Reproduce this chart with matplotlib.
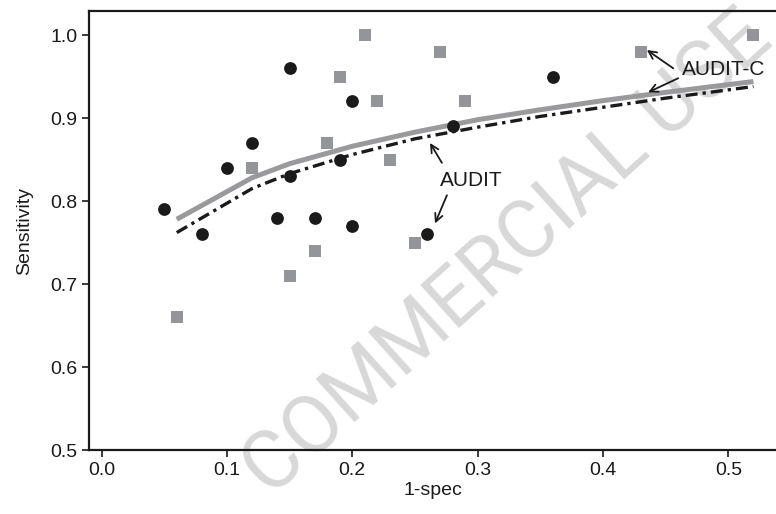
import numpy as np
import matplotlib
matplotlib.use('Agg')
import matplotlib.pyplot as plt

plt.rcParams['font.family'] = ['Liberation Sans', 'DejaVu Sans']

# AUDIT (black circles)
audit_x = [0.05, 0.08, 0.10, 0.12, 0.14, 0.15, 0.15, 0.17, 0.19, 0.20, 0.20, 0.26, 0.28, 0.36]
audit_y = [0.79, 0.76, 0.84, 0.87, 0.78, 0.96, 0.83, 0.78, 0.85, 0.92, 0.77, 0.76, 0.89, 0.95]

# AUDIT-C (grey squares)
auditc_x = [0.06, 0.12, 0.15, 0.17, 0.18, 0.19, 0.21, 0.22, 0.23, 0.25, 0.27, 0.29, 0.43, 0.52]
auditc_y = [0.66, 0.84, 0.71, 0.74, 0.87, 0.95, 1.00, 0.92, 0.85, 0.75, 0.98, 0.92, 0.98, 1.00]

# summary curves
curve_x = [0.06, 0.12, 0.15, 0.20, 0.25, 0.30, 0.35, 0.40, 0.45, 0.52]
curve_auditc = [0.778, 0.828, 0.845, 0.866, 0.883, 0.898, 0.910, 0.921, 0.931, 0.944]
curve_audit = [0.762, 0.815, 0.833, 0.856, 0.875, 0.889, 0.902, 0.913, 0.924, 0.938]

fig = plt.figure(figsize=(7.76, 5.14), dpi=100)
ax = fig.add_axes([0.1147, 0.1245, 0.8853, 0.8541])
ax.patch.set_alpha(0)

ax.plot(curve_x, curve_auditc, color='#9a9a9c', lw=3.6, solid_capstyle='butt', zorder=3)
ax.plot(curve_x, curve_audit, color='#1a1a1a', lw=2.4, dashes=(3.6, 1.5, 1.0, 1.5),
        dash_capstyle='butt', zorder=4)
ax.plot(auditc_x, auditc_y, 's', color='#939598', markersize=8.6, markeredgewidth=0, zorder=5)
ax.plot(audit_x, audit_y, 'o', color='#1a1a1a', markersize=9.2, markeredgewidth=0, zorder=6)

arrow = dict(arrowstyle='->', color='#1a1a1a', lw=1.3, shrinkA=0, shrinkB=0, mutation_scale=14)
ax.text(0.496, 0.958, 'AUDIT-C', fontsize=15, ha='center', va='center', color='#1a1a1a')
ax.annotate('', xy=(0.435, 0.982), xytext=(0.456, 0.960), arrowprops=arrow)
ax.annotate('', xy=(0.436, 0.931), xytext=(0.460, 0.948), arrowprops=arrow)
ax.text(0.295, 0.825, 'AUDIT', fontsize=15, ha='center', va='center', color='#1a1a1a')
ax.annotate('', xy=(0.262, 0.870), xytext=(0.2715, 0.846), arrowprops=arrow)
ax.annotate('', xy=(0.266, 0.773), xytext=(0.2755, 0.807), arrowprops=arrow)

ax.set_xlim(-0.01, 0.538)
ax.set_ylim(0.5, 1.029)
ax.set_xticks([0.0, 0.1, 0.2, 0.3, 0.4, 0.5])
ax.set_yticks([0.5, 0.6, 0.7, 0.8, 0.9, 1.0])
ax.set_xticklabels(['0.0', '0.1', '0.2', '0.3', '0.4', '0.5'])
ax.set_yticklabels(['0.5', '0.6', '0.7', '0.8', '0.9', '1.0'])
ax.tick_params(axis='both', direction='out', length=5, width=1.2, labelsize=14, colors='#1a1a1a')
ax.set_xlabel('1-spec', fontsize=14, color='#1a1a1a', labelpad=2)
ax.set_ylabel('Sensitivity', fontsize=14, color='#1a1a1a', labelpad=12)
for s in ['left', 'bottom', 'top']:
    ax.spines[s].set_linewidth(1.6)
    ax.spines[s].set_color('#1a1a1a')
ax.spines['right'].set_visible(False)

# faint watermark behind the data
fig.text(0.655, 0.505, 'COMMERCIAL USE', fontsize=58, rotation=42, color='#d8d8d8',
         ha='center', va='center', family=['Roboto', 'Liberation Sans'],
         zorder=-1)

fig.savefig('out.png', dpi=100)
